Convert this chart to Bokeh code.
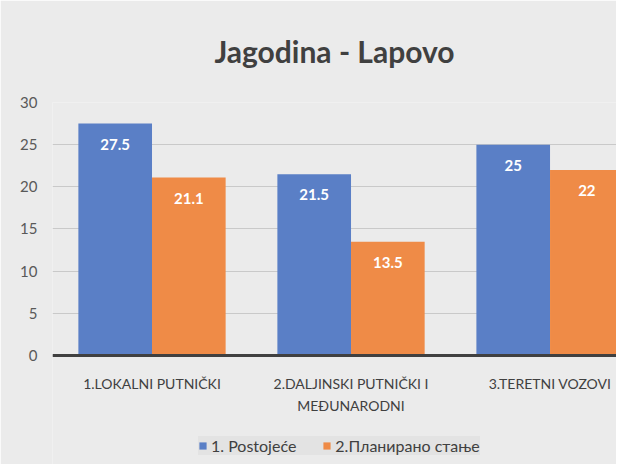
from bokeh.plotting import figure
from bokeh.models import (Range1d, ColumnDataSource, FixedTicker, Legend, LegendItem,
                          LabelSet, Title, Span)
from bokeh.embed import file_html
from bokeh.resources import INLINE
from bokeh.core.properties import value

categories = ["1.LOKALNI PUTNIČKI", "2.DALJINSKI PUTNIČKI I\nMEĐUNARODNI", "3.TERETNI VOZOVI"]
postojece = [27.5, 21.5, 25]
planirano = [21.1, 13.5, 22]
series_names = ["1. Postojeće", "2.Планирано стање"]
y_ticks = [0, 5, 10, 15, 20, 25, 30]

BLUE = "#5a7fc6"
ORANGE = "#ef8b47"
BG = "#ebebeb"
FONT = "Lato"

idx = list(range(len(categories)))
bw = 0.37
src1 = ColumnDataSource(dict(x=[i + 0.5 - bw / 2 for i in idx], top=postojece,
                             lab=[f"{v:g}" for v in postojece]))
src2 = ColumnDataSource(dict(x=[i + 0.5 + bw / 2 for i in idx], top=planirano,
                             lab=[f"{v:g}" for v in planirano]))
src_cat = ColumnDataSource(dict(x=[i + 0.5 for i in idx], y=[0] * len(idx), text=categories))

# frame extends below the zero line so the category labels and legend live inside it
p = figure(frame_width=564, frame_height=362, output_backend="svg", toolbar_location=None,
           x_range=Range1d(0, 2.834), y_range=Range1d(-12.93, 30),
           background_fill_color=BG, border_fill_color=BG,
           min_border_left=52, min_border_right=0, min_border_top=102,
           min_border_bottom=0, outline_line_color=None,
           title="Jagodina - Lapovo")
p.title.align = "center"
p.title.text_font = FONT
p.title.text_font_size = "30px"
p.title.text_color = "#404040"
p.title.text_font_style = "bold"
p.title.offset = 4

# spacer between the title and the plot frame
p.add_layout(Title(text=" ", text_font_size="16px"), "above")

r1 = p.vbar(x="x", top="top", bottom=0, width=bw, source=src1, fill_color=BLUE, line_color=None)
r2 = p.vbar(x="x", top="top", bottom=0, width=bw, source=src2, fill_color=ORANGE, line_color=None)

for s in (src1, src2):
    p.add_layout(LabelSet(x="x", y="top", text="lab", source=s, text_align="center",
                          text_baseline="top", y_offset=-15, text_color="white",
                          text_font=value(FONT), text_font_style="bold",
                          text_font_size="15px"))

# baseline (x axis line)
p.add_layout(Span(location=0, dimension="width", line_color="#404040", line_width=3))

# category labels
p.text(x="x", y="y", text="text", source=src_cat, text_align="center",
       text_baseline="top", y_offset=20, text_font=value(FONT),
       text_font_size="14px", text_color="#404040", text_line_height=1.25)

p.xgrid.grid_line_color = None
p.ygrid.grid_line_color = "#c9c9c9"
p.ygrid.ticker = FixedTicker(ticks=y_ticks)

p.xaxis.visible = False

p.yaxis.ticker = FixedTicker(ticks=y_ticks)
p.yaxis.axis_line_color = None
p.yaxis.major_tick_line_color = None
p.yaxis.minor_tick_line_color = None
p.yaxis.major_label_text_font = FONT
p.yaxis.major_label_text_font_size = "15px"
p.yaxis.major_label_text_color = "#595959"
p.yaxis.major_label_standoff = 9

legend = Legend(items=[LegendItem(label=series_names[0], renderers=[r1]),
                       LegendItem(label=series_names[1], renderers=[r2])],
                orientation="horizontal", location=(146, 9),
                background_fill_color="#e3e3e3", border_line_color=None,
                label_text_font=FONT, label_text_font_size="16px",
                label_text_color="#404040", glyph_width=9, glyph_height=9,
                label_standoff=4, spacing=26, padding=10, margin=0)
p.add_layout(legend, "center")

open("out.html", "w").write(file_html(p, INLINE))
